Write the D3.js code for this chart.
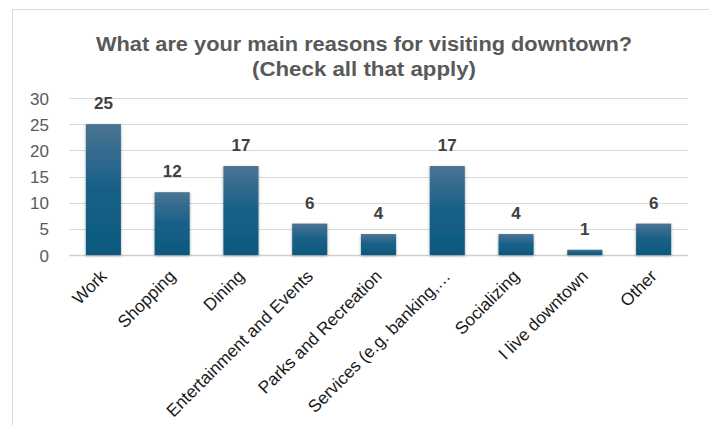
<!DOCTYPE html>
<html><head><meta charset="utf-8">
<script src="https://cdn.jsdelivr.net/npm/d3@7/dist/d3.min.js"></script>
<style>body{margin:0;background:#fff;}svg{display:block;}</style>
</head><body>
<svg id="c" width="709" height="425"></svg>
<script>
const categories = ["Work","Shopping","Dining","Entertainment and Events","Parks and Recreation","Services (e.g. banking,…","Socializing","I live downtown","Other"];
const values = [25,12,17,6,4,17,4,1,6];
const yTicks = [0,5,10,15,20,25,30];
const titleLines = ["What are your main reasons for visiting downtown?","(Check all that apply)"];
const titleWidths = [536,224];

const svg = d3.select("#c");
const defs = svg.append("defs");
const g1 = defs.append("linearGradient").attr("id","bg").attr("x1",0).attr("y1",0).attr("x2",0).attr("y2",1);
g1.append("stop").attr("offset","0%").attr("stop-color","#4b7494");
g1.append("stop").attr("offset","50%").attr("stop-color","#176087");
g1.append("stop").attr("offset","100%").attr("stop-color","#0d597d");
const f = defs.append("filter").attr("id","sh").attr("x","-20%").attr("y","-20%").attr("width","140%").attr("height","140%");
f.append("feDropShadow").attr("dx",0).attr("dy",1).attr("stdDeviation",1.5).attr("flood-color","#000").attr("flood-opacity",0.35);

// frame
svg.append("path").attr("d","M12.5,425 V9.5 H709").attr("fill","none").attr("stroke","#d9d9d9").attr("stroke-width",1);

const x = d3.scaleBand().domain(categories).range([69,688]).paddingInner(0.49).paddingOuter(0.245);
const y = d3.scaleLinear().domain([0,30]).range([255,98]);

// title
svg.append("g").selectAll("text").data(titleLines).join("text")
  .attr("x",364).attr("y",(d,i)=>51+i*25).attr("text-anchor","middle")
  .attr("font-family","'Liberation Sans',Arial,sans-serif").attr("font-weight","bold")
  .attr("font-size",19.5).attr("fill","#595959")
  .attr("textLength",(d,i)=>titleWidths[i]).attr("lengthAdjust","spacingAndGlyphs")
  .text(d=>d);

// grid
svg.append("g").selectAll("line").data(yTicks).join("line")
  .attr("x1",69).attr("x2",688).attr("y1",d=>Math.round(y(d))+0.5).attr("y2",d=>Math.round(y(d))+0.5)
  .attr("stroke",(d)=>d===0?"#d0d0d0":"#d9d9d9").attr("stroke-width",d=>d===0?1.5:1);

// y axis
const ya = svg.append("g").attr("transform","translate(49,0)")
  .call(d3.axisLeft(y).tickValues(yTicks).tickSize(0).tickPadding(0));
ya.select(".domain").remove();
ya.selectAll("text").attr("font-family","'Liberation Sans',Arial,sans-serif").attr("font-size",17).attr("fill","#595959").attr("dy","0.36em");

// bars
svg.append("g").selectAll("rect").data(values).join("rect")
  .attr("x",(d,i)=>x(categories[i])).attr("width",x.bandwidth())
  .attr("y",d=>y(d)).attr("height",d=>y(0)-y(d))
  .attr("fill","url(#bg)").attr("filter","url(#sh)");

// data labels
svg.append("g").selectAll("text").data(values).join("text")
  .attr("x",(d,i)=>x(categories[i])+x.bandwidth()/2).attr("y",d=>y(d)-15)
  .attr("text-anchor","middle").attr("font-family","'Liberation Sans',Arial,sans-serif")
  .attr("font-weight","bold").attr("font-size",17).attr("fill","#404040").text(d=>d);

// x axis labels
const xa = svg.append("g").attr("transform","translate(0,255)")
  .call(d3.axisBottom(x).tickSize(0).tickPadding(0));
xa.select(".domain").remove();
xa.selectAll("text")
  .attr("font-family","'Liberation Sans',Arial,sans-serif").attr("font-size",17.3).attr("fill","#1a1a1a")
  .attr("text-anchor","end").attr("dy","0.35em")
  .attr("transform","translate(0,18) rotate(-45)");
</script>
</body></html>
